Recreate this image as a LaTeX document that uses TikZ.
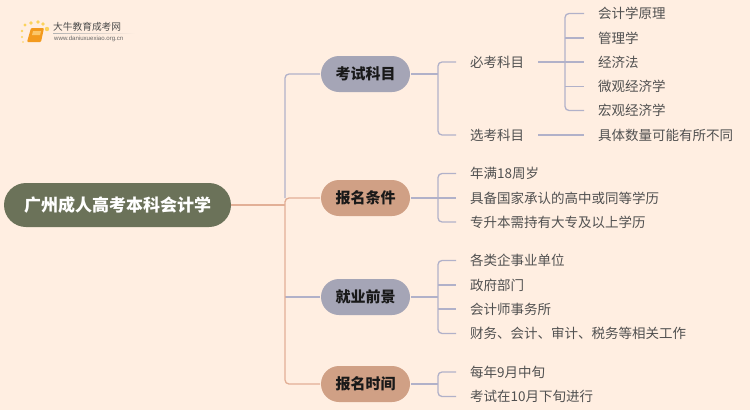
\documentclass[tikz,border=0pt]{standalone}
\usepackage{fontspec}
\setmainfont{Noto Sans CJK SC}
\setsansfont{Liberation Sans}
\definecolor{bgc}{HTML}{FFEEE1}
\definecolor{rootc}{HTML}{6B7259}
\definecolor{greyc}{HTML}{A5A5B6}
\definecolor{tanc}{HTML}{D0A085}
\definecolor{greyl}{HTML}{B1B1C9}
\definecolor{tanl}{HTML}{E2AF96}
\definecolor{txt}{HTML}{505050}
\definecolor{dotc}{HTML}{FBD35C}
\definecolor{bookc}{HTML}{F39A1E}
\definecolor{pagec}{HTML}{FBC66A}
\tikzset{
  rootbox/.style={rounded corners=22pt,fill=rootc,minimum width=227pt,minimum height=44pt,inner sep=0pt,text=white,font=\fontsize{17}{17}\selectfont\bfseries},
  mainbox/.style={rounded corners=18pt,minimum width=89pt,minimum height=36pt,inner sep=0pt,outer sep=1pt,text=black!90,font=\fontsize{15}{15}\selectfont\bfseries},
  greybox/.style={mainbox,fill=greyc},
  tanbox/.style={mainbox,fill=tanc},
  itembox/.style={anchor=west,inner xsep=14pt,inner ysep=0pt,text=txt,font=\fontsize{13.5}{13.5}\selectfont},
  greylink/.style={draw=greyl,line width=1.3pt,rounded corners=4pt},
  tanlink/.style={draw=tanl,line width=1.3pt,rounded corners=4pt},
}
\begin{document}
\begin{tikzpicture}[x=1pt,y=-1pt]
\fill[bgc] (0,0) rectangle (750,410);
\useasboundingbox (0,0) rectangle (750,410);
% logo
\foreach \px/\py/\pr in {23/42/0.9,22/37/1.1,22/31/1.3,25/25/1.6,31/23/1.8,38/22/1.8,43/24/1.9,47/29/2.2}
  \fill[dotc] (\px,\py) circle (\pr);
\fill[bookc,rounded corners=1pt] (31,28) -- (44,28) -- (41,42) -- (27,42) -- cycle;
\fill[pagec] (33,31) -- (41,31) -- (40,35) -- (32,35) -- cycle;
\shade[left color=black!30,right color=bgc] (53,33) rectangle (135,33.7);
\node[anchor=west,inner sep=0pt,text=black!70,font=\fontsize{9.7}{10}\selectfont] (logoa) at (53,27) {大牛教育成考网};
\node[anchor=west,inner sep=0pt,text=black!60,font=\sffamily\fontsize{6.1}{7}\selectfont] (logob) at (54,39) {www.daniuxuexiao.org.cn};
% nodes
\node[rootbox] (root) at (117.5,205) {广州成人高考本科会计学};
\node[greybox] (a) at (365.5,74) {考试科目};
\node[tanbox] (b) at (365.5,198) {报名条件};
\node[greybox] (c) at (365.5,297) {就业前景};
\node[tanbox] (d) at (365.5,384) {报名时间};
\coordinate (t) at (285,205);
\coordinate (ta) at (438,74);
\coordinate (tb) at (438,198);
\coordinate (tc) at (438,297);
\coordinate (td) at (438,384);
\node[itembox] (a1) at (456,62) {必考科目};
\node[itembox] (a2) at (456,135) {选考科目};
\coordinate (ta1) at (565,62);
\node[itembox] (l1) at (584,13.5) {会计学原理};
\node[itembox] (l2) at (584,38) {管理学};
\node[itembox] (l3) at (584,62) {经济法};
\node[itembox] (l4) at (584,86.5) {微观经济学};
\node[itembox] (l5) at (584,110.5) {宏观经济学};
\node[itembox] (l6) at (584,135) {具体数量可能有所不同};
\node[itembox] (b1) at (456,173.5) {年满18周岁};
\node[itembox] (b2) at (456,198) {具备国家承认的高中或同等学历};
\node[itembox] (b3) at (456,222) {专升本需持有大专及以上学历};
\node[itembox] (c1) at (456,260.5) {各类企事业单位};
\node[itembox] (c2) at (456,285) {政府部门};
\node[itembox] (c3) at (456,309) {会计师事务所};
\node[itembox] (c4) at (456,333.5) {财务、会计、审计、税务等相关工作};
\node[itembox] (d1) at (456,372) {每年9月中旬};
\node[itembox] (d2) at (456,396.5) {考试在10月下旬进行};
% trunk
\draw[greylink] (a.west) -| (b.west -| t);
\draw[greylink] (c.west) -- (c.west -| t);
\draw[tanlink] (b.west) -| (t) |- (d.west);
\draw[tanlink] (root.east) -- (t);
% branches
\draw[greylink] (a1.west) -| (ta) |- (a2.west);
\draw[greylink] (a.east) -- (ta);
\draw[greylink] (l1.west) -| (ta1) |- (l5.west);
\draw[greylink] (a1.east) -- (l3.west);
\draw[greylink] (l2.west -| ta1) -- (l2.west);
\draw[greylink] (l4.west -| ta1) -- (l4.west);
\draw[greylink] (a2.east) -- (l6.west);
\draw[greylink] (b1.west) -| (tb) |- (b3.west);
\draw[greylink] (b.east) -- (b2.west);
\draw[greylink] (c1.west) -| (tc) |- (c4.west);
\draw[greylink] (c.east) -- (tc);
\draw[greylink] (c2.west -| tc) -- (c2.west);
\draw[greylink] (c3.west -| tc) -- (c3.west);
\draw[greylink] (d1.west) -| (td) |- (d2.west);
\draw[greylink] (d.east) -- (td);
\end{tikzpicture}
\end{document}
